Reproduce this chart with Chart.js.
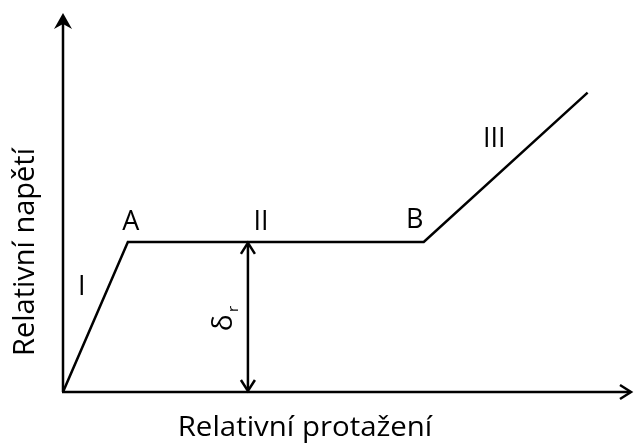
<!DOCTYPE html>
<html>
<head>
<meta charset="utf-8">
<script src="https://cdn.jsdelivr.net/npm/chart.js@4/dist/chart.umd.min.js"></script>
<style>
  html, body { margin: 0; padding: 0; background: #fff; }
  #wrap { width: 634px; height: 444px; }
</style>
</head>
<body>
<div id="wrap"><canvas id="chart"></canvas></div>
<script>
// strain / stress points of the idealised curve
const strain = [0, 1.14, 6.34, 9.22]
const stress = [0, 3.96, 3.96, 7.9]
const segmentLabels = ['I', 'A', 'II', 'B', 'III']
const xTitle = 'Relativní protažení'
const yTitle = 'Relativní napětí'
const residualX = 3.25

const FONT = '"Open Sans", "Liberation Sans", sans-serif'

function arrowHead(ctx, x, y, dir, filled) {
  // dir: 'up' | 'down' | 'right'
  ctx.save()
  ctx.translate(x, y)
  if (dir === 'down') ctx.rotate(Math.PI)
  if (dir === 'right') ctx.rotate(Math.PI / 2)
  ctx.beginPath()
  if (filled) {
    ctx.moveTo(0, 0)
    ctx.lineTo(9, 16)
    ctx.lineTo(0, 11)
    ctx.lineTo(-9, 16)
    ctx.closePath()
    ctx.fill()
  } else {
    ctx.moveTo(-7, 12)
    ctx.lineTo(0, 1)
    ctx.lineTo(7, 12)
    ctx.stroke()
  }
  ctx.restore()
}

// stretched text, to get the wide look of the original font
function wideText(ctx, t, px, py, sx) {
  ctx.save()
  ctx.translate(px, py)
  ctx.scale(sx, 1)
  ctx.fillText(t, 0, 0)
  ctx.restore()
}

const decor = {
  id: 'decor',
  beforeDatasetsDraw(chart) {
    const {ctx, scales: {x, y}} = chart
    const x0 = x.getPixelForValue(0), y0 = y.getPixelForValue(0)
    ctx.save()
    ctx.strokeStyle = '#000'
    ctx.fillStyle = '#000'
    ctx.lineWidth = 2.5
    // axes
    ctx.beginPath()
    ctx.moveTo(x0, y0)
    ctx.lineTo(x0, chart.chartArea.top + 4)
    ctx.moveTo(x0 - 1, y0)
    ctx.lineTo(chart.chartArea.right - 3, y0)
    ctx.stroke()
    arrowHead(ctx, x0, chart.chartArea.top, 'up', true)
    arrowHead(ctx, chart.chartArea.right, y0, 'right', false)

    // residual stress arrow
    const rx = x.getPixelForValue(residualX)
    const ry = y.getPixelForValue(stress[1])
    ctx.beginPath()
    ctx.moveTo(rx, ry + 2)
    ctx.lineTo(rx, y0 - 2)
    ctx.stroke()
    arrowHead(ctx, rx, ry, 'up', false)
    arrowHead(ctx, rx, y0, 'down', false)

    // labels
    ctx.font = '27px ' + FONT
    ctx.textAlign = 'center'
    ctx.textBaseline = 'middle'
    const lab = (t, px, py) => wideText(ctx, t, px, py, 1.0)
    lab(segmentLabels[0], x.getPixelForValue(0.33), y.getPixelForValue(2.75))
    lab(segmentLabels[1], x.getPixelForValue(strain[1]) + 3, ry - 20)
    lab(segmentLabels[2], rx + 13, ry - 20)
    lab(segmentLabels[3], x.getPixelForValue(strain[2]) - 9, ry - 22)
    lab(segmentLabels[4], x.getPixelForValue(7.58), y.getPixelForValue(6.66))

    // delta r, rotated
    ctx.save()
    ctx.translate(rx - 24, (ry + y0) / 2 + 2)
    ctx.rotate(-Math.PI / 2)
    ctx.font = '28px ' + FONT
    ctx.textAlign = 'center'
    ctx.fillText('δ', -4, 0)
    ctx.font = '15px ' + FONT
    ctx.fillText('r', 10, 10)
    ctx.restore()

    // axis titles
    ctx.font = '27px ' + FONT
    wideText(ctx, xTitle, 305, 428, 1.09)
    ctx.save()
    ctx.translate(26, 252)
    ctx.rotate(-Math.PI / 2)
    ctx.font = '29px ' + FONT
    ctx.fillText(yTitle, 0, 0)
    ctx.restore()
    ctx.restore()
  }
}

new Chart(document.getElementById('chart'), {
  type: 'line',
  data: {
    datasets: [{
      data: strain.map((v, i) => ({x: v, y: stress[i]})),
      borderColor: '#000',
      borderWidth: 2.5,
      pointRadius: 0,
      tension: 0,
      fill: false,
      borderJoinStyle: 'miter'
    }]
  },
  options: {
    animation: false,
    responsive: true,
    maintainAspectRatio: false,
    layout: { padding: { left: 63, right: 2, top: 13, bottom: 52 } },
    scales: {
      x: { type: 'linear', min: 0, max: 10, display: false },
      y: { type: 'linear', min: 0, max: 10, display: false }
    },
    plugins: { legend: { display: false }, tooltip: { enabled: false } }
  },
  plugins: [decor]
})
</script>
</body>
</html>
